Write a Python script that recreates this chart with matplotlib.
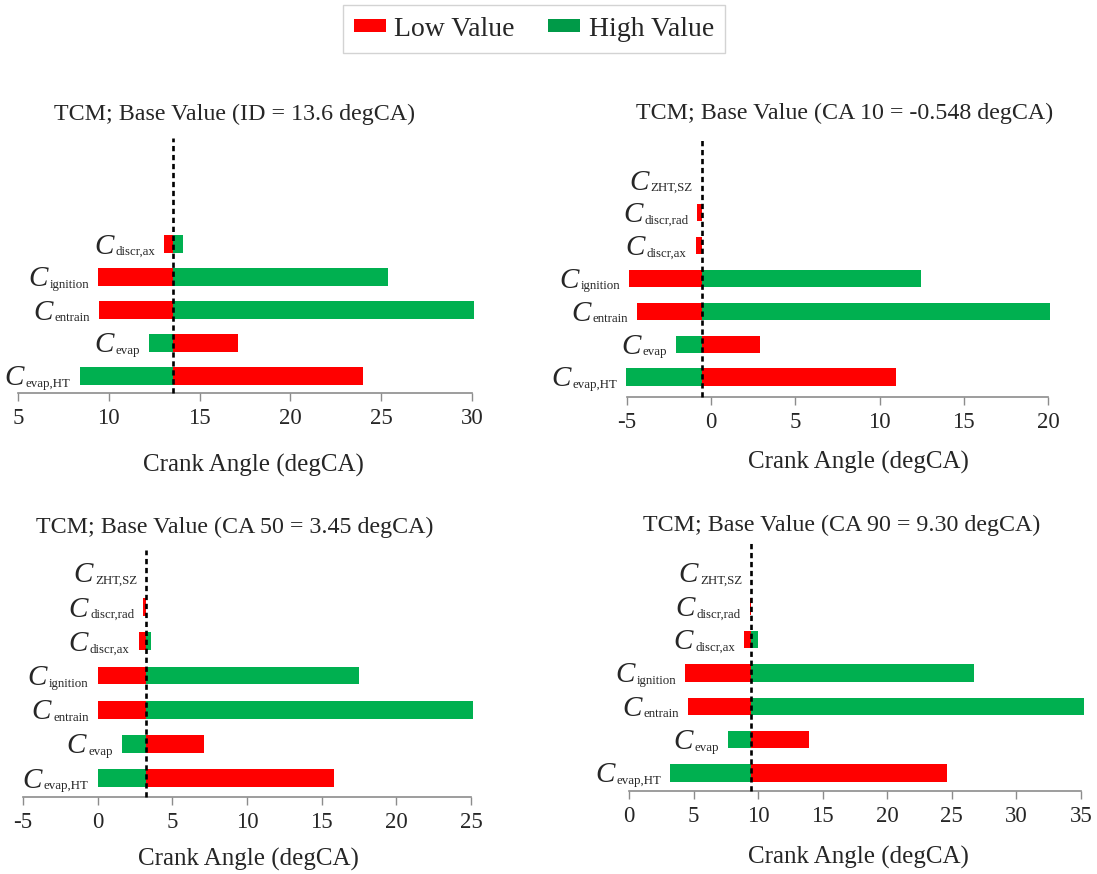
import numpy as np
import matplotlib
matplotlib.use("Agg")
import matplotlib.pyplot as plt
from matplotlib.patches import Patch

plt.rcParams['font.family'] = ['Liberation Serif', 'DejaVu Serif']

# ---------------- data (rows bottom -> top) ----------------
categories = ['evap,HT', 'evap', 'entrain', 'ignition', 'discr,ax', 'discr,rad', 'ZHT,SZ']

titles = ['TCM; Base Value (ID = 13.6 degCA)',
          'TCM; Base Value (CA 10 = -0.548 degCA)',
          'TCM; Base Value (CA 50 = 3.45 degCA)',
          'TCM; Base Value (CA 90 = 9.30 degCA)']

# position of the dashed base line
pivot_1 = 13.55
pivot_2 = -0.55
pivot_3 = 3.24
pivot_4 = 9.45

nan = np.nan
low_1 = [24.0, 17.1, 9.45, 9.4, 13.05, nan, nan]
high_1 = [8.4, 12.2, 30.1, 25.35, 14.1, nan, nan]

low_2 = [10.95, 2.9, -4.4, -4.87, -0.92, -0.82, -0.55]
high_2 = [-5.05, -2.1, 20.1, 12.45, -0.55, -0.55, -0.55]

low_3 = [15.8, 7.1, 0.0, 0.0, 2.75, 3.05, 3.24]
high_3 = [0.0, 1.6, 25.15, 17.5, 3.55, 3.24, 3.24]

low_4 = [24.6, 13.9, 4.55, 4.35, 8.9, 9.35, 9.45]
high_4 = [3.2, 7.7, 35.2, 26.7, 10.0, 9.45, 9.45]

xlims = [(5, 30), (-5, 20), (-5, 25), (0, 35)]
xticks = [np.arange(5, 31, 5), np.arange(-5, 21, 5), np.arange(-5, 26, 5), np.arange(0, 36, 5)]

panels = [(low_1, high_1, pivot_1), (low_2, high_2, pivot_2),
          (low_3, high_3, pivot_3), (low_4, high_4, pivot_4)]

# ---------------- layout (pixels) ----------------
W, H = 1097, 874
# x0, x1, top, bottom, row0_y, row6_y
layout = [(18, 472, 138, 393, 376, 178),
          (627, 1048, 138, 397, 377, 180),
          (23, 471, 550, 797, 778, 573),
          (629, 1081, 543, 791, 773, 573)]
title_pos = [(235, 114), (845, 113), (235, 527), (842, 525)]
xlabel_pos = [(253, 465), (858, 462), (248, 859), (858, 857)]

RED = '#FF0000'
GREEN = '#00B050'
TXT = '#262626'
SPINE = '#8C8C8C'

fig = plt.figure(figsize=(W / 100, H / 100), dpi=100)
renderer = fig.canvas.get_renderer()
PX = 72.0 / 100  # points per pixel

for i, ((low, high, pivot), (x0, x1, top, bot, r0, r6)) in enumerate(zip(panels, layout)):
    ax = fig.add_axes([x0 / W, 1 - bot / H, (x1 - x0) / W, (bot - top) / H])
    s = (r0 - r6) / 6.0
    ylo = -(bot - r0) / s
    yhi = 6 + (r6 - top) / s
    ax.set_xlim(*xlims[i])
    ax.set_ylim(ylo, yhi)
    y = np.arange(len(categories))
    low = np.array(low, dtype=float)
    high = np.array(high, dtype=float)
    ax.barh(y, low - pivot, left=pivot, height=0.52, color=RED, clip_on=False, zorder=2)
    ax.barh(y, high - pivot, left=pivot, height=0.52, color=GREEN, clip_on=False, zorder=2)
    ax.axvline(pivot, color='black', lw=1.9, ls=(0, (2, 1.4)), zorder=3, clip_on=False)
    for yi, cat, lo, hi in zip(y, categories, low, high):
        if np.isnan(lo) and np.isnan(hi):
            continue
        xl = np.nanmin([lo, hi, pivot])
        sub = ax.annotate(cat, xy=(xl, yi), xytext=(-9 * PX, -11 * PX),
                          textcoords='offset points', ha='right', va='baseline',
                          fontsize=9.3, color=TXT, annotation_clip=False)
        wsub = sub.get_window_extent(renderer).width
        ax.annotate('C', xy=(xl, yi), xytext=(-(9 + wsub + 2) * PX, -9.5 * PX),
                    textcoords='offset points', ha='right', va='baseline',
                    fontsize=21, style='italic', color=TXT, annotation_clip=False)
    for sp in ['top', 'right', 'left']:
        ax.spines[sp].set_visible(False)
    ax.spines['bottom'].set_color(SPINE)
    ax.spines['bottom'].set_linewidth(1.2)
    ax.set_yticks([])
    ax.set_xticks(xticks[i])
    ax.set_xticklabels([str(v) for v in xticks[i]])
    ax.tick_params(axis='x', direction='out', length=6, width=1.0, color=SPINE,
                   labelsize=16.5, labelcolor=TXT, pad=5)
    ax.patch.set_alpha(0)
    tx, ty = title_pos[i]
    fig.text(tx / W, 1 - ty / H, titles[i], ha='center', va='center', fontsize=17.3, color=TXT)
    lx, ly = xlabel_pos[i]
    fig.text(lx / W, 1 - ly / H, 'Crank Angle (degCA)', ha='center', va='center',
             fontsize=18, color=TXT)

handles = [Patch(facecolor=RED, edgecolor='none'), Patch(facecolor='#009A48', edgecolor='none')]
leg = fig.legend(handles, ['Low Value', 'High Value'], loc='center',
                 bbox_to_anchor=(534 / W, 1 - 29 / H), ncol=2, fontsize=20,
                 frameon=True, fancybox=False, edgecolor='#C8C8C8',
                 handlelength=1.15, handleheight=0.38, handletextpad=0.3,
                 columnspacing=1.2, borderpad=0.4, labelcolor=TXT)
leg.get_frame().set_linewidth(1.0)

fig.savefig('out.png', dpi=100)
